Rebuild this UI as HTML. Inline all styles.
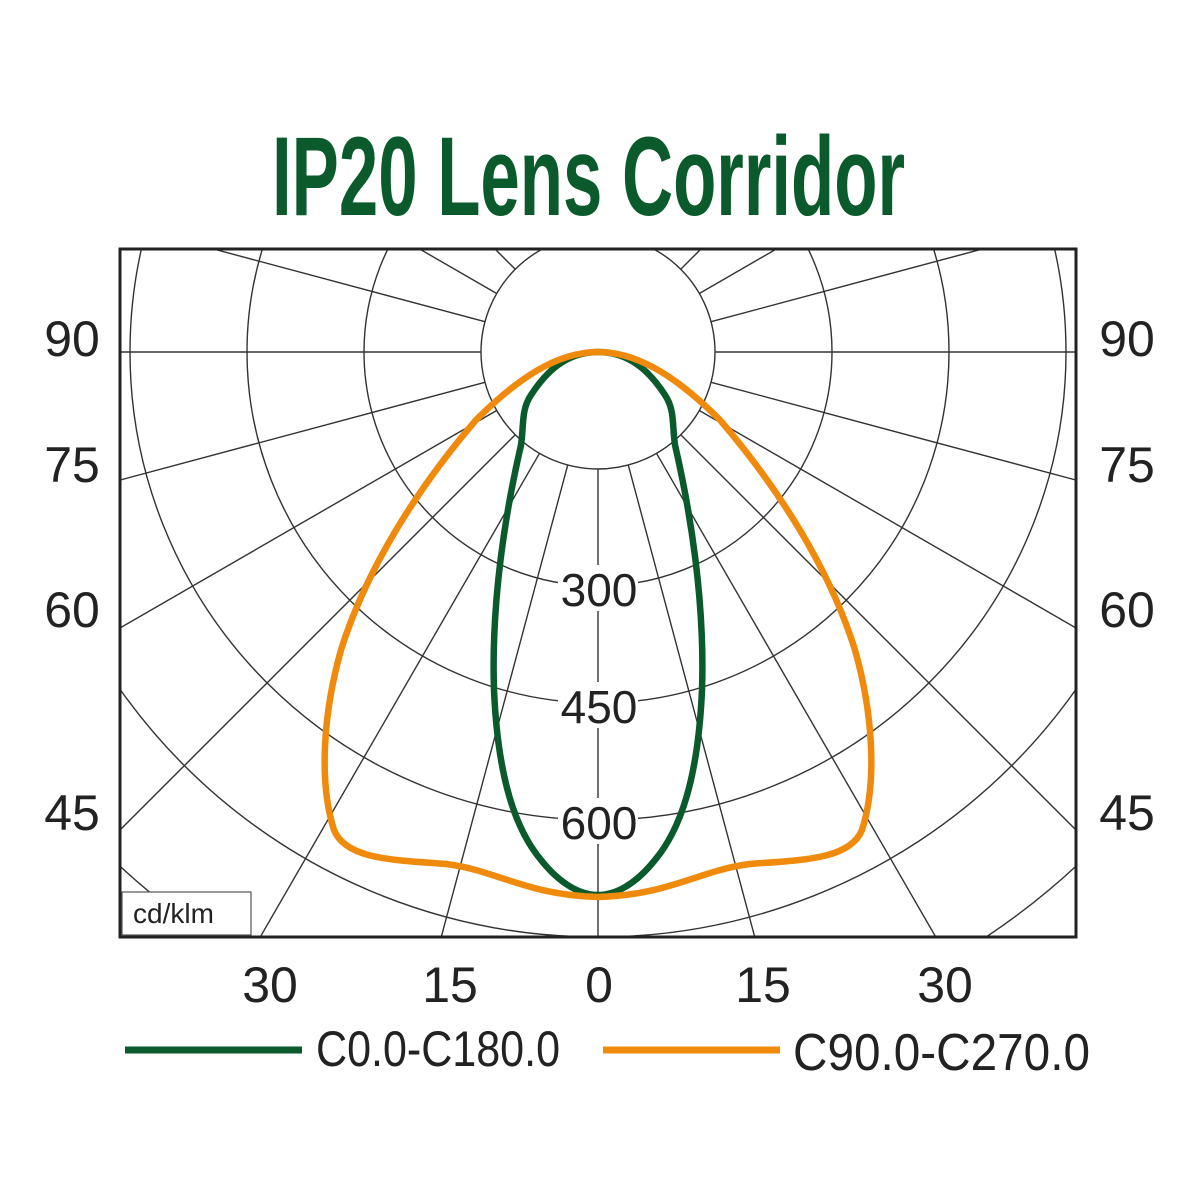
<!DOCTYPE html>
<html><head><meta charset="utf-8"><style>
html,body{margin:0;padding:0;background:#fff;width:1200px;height:1200px;overflow:hidden;}
svg{display:block;overflow:hidden}
text{font-family:"Liberation Sans Narrow","Liberation Sans",sans-serif;fill:#222}
</style></head><body>
<svg width="1200" height="1200" viewBox="0 0 1200 1200" xmlns="http://www.w3.org/2000/svg">
<defs><clipPath id="c"><rect x="121" y="250" width="954" height="686"/></clipPath></defs>
<text x="272" y="215" font-size="112" font-weight="bold" textLength="633" lengthAdjust="spacingAndGlyphs" style="fill:#0b5a2c">IP20 Lens Corridor</text>
<g clip-path="url(#c)" stroke="#333" stroke-width="1.4" fill="none">
<circle cx="598" cy="352" r="117"/>
<circle cx="598" cy="352" r="234"/>
<circle cx="598" cy="352" r="351"/>
<circle cx="598" cy="352" r="468"/>
<circle cx="598" cy="352" r="585"/>
<circle cx="598" cy="352" r="702"/>
<g transform="translate(598,352)">
<line x1="117" y1="0" x2="760" y2="0" transform="rotate(0)"/>
<line x1="117" y1="0" x2="760" y2="0" transform="rotate(15)"/>
<line x1="117" y1="0" x2="760" y2="0" transform="rotate(30)"/>
<line x1="117" y1="0" x2="760" y2="0" transform="rotate(45)"/>
<line x1="117" y1="0" x2="760" y2="0" transform="rotate(60)"/>
<line x1="117" y1="0" x2="760" y2="0" transform="rotate(75)"/>
<line x1="117" y1="0" x2="760" y2="0" transform="rotate(90)"/>
<line x1="117" y1="0" x2="760" y2="0" transform="rotate(105)"/>
<line x1="117" y1="0" x2="760" y2="0" transform="rotate(120)"/>
<line x1="117" y1="0" x2="760" y2="0" transform="rotate(135)"/>
<line x1="117" y1="0" x2="760" y2="0" transform="rotate(150)"/>
<line x1="117" y1="0" x2="760" y2="0" transform="rotate(165)"/>
<line x1="117" y1="0" x2="760" y2="0" transform="rotate(180)"/>
<line x1="117" y1="0" x2="760" y2="0" transform="rotate(195)"/>
<line x1="117" y1="0" x2="760" y2="0" transform="rotate(210)"/>
<line x1="117" y1="0" x2="760" y2="0" transform="rotate(225)"/>
<line x1="117" y1="0" x2="760" y2="0" transform="rotate(240)"/>
<line x1="117" y1="0" x2="760" y2="0" transform="rotate(255)"/>
<line x1="117" y1="0" x2="760" y2="0" transform="rotate(270)"/>
<line x1="117" y1="0" x2="760" y2="0" transform="rotate(285)"/>
<line x1="117" y1="0" x2="760" y2="0" transform="rotate(300)"/>
<line x1="117" y1="0" x2="760" y2="0" transform="rotate(315)"/>
<line x1="117" y1="0" x2="760" y2="0" transform="rotate(330)"/>
<line x1="117" y1="0" x2="760" y2="0" transform="rotate(345)"/>
</g>
</g>
<rect x="120" y="249" width="956" height="688" fill="none" stroke="#222" stroke-width="3"/>
<rect x="122" y="892" width="129" height="43" fill="#fff" stroke="#555" stroke-width="1.2"/>
<text x="133" y="923" font-size="28" style="font-family:'Liberation Sans',sans-serif">cd/klm</text>
<g font-size="46" text-anchor="middle">
<rect x="558" y="565" width="80" height="46" fill="#fff"/>
<rect x="558" y="682" width="80" height="46" fill="#fff"/>
<rect x="558" y="798" width="80" height="46" fill="#fff"/>
<text x="599" y="606">300</text>
<text x="599" y="723">450</text>
<text x="599" y="839">600</text>
</g>
<path d="M598,352 C630,352 650,372 665,395 C675,410 672,425 675,445 C690,510 705,600 702,690 C698,780 680,830 655,860 C635,885 615,895 598,895 C581,895 561,885 541,860 C516,830 498,780 494,690 C491,600 506,510 521,445 C524,425 521,410 531,395 C546,372 566,352 598,352 Z" fill="none" stroke="#0b5a2c" stroke-width="6.5"/>
<path d="M598,352 C640,352 680,380 720,420 C780,490 830,570 855,650 C872,710 878,780 862,830 C850,860 800,860 750,864 C700,870 670,895 598,897 C526,895 496,870 446,864 C396,860 346,860 334,830 C318,780 324,710 341,650 C366,570 416,490 476,420 C516,380 556,352 598,352 Z" fill="none" stroke="#ef8a0c" stroke-width="6.5"/>
<g font-size="50" text-anchor="middle">
<text x="72" y="356">90</text><text x="72" y="482">75</text><text x="72" y="627">60</text><text x="72" y="830">45</text>
<text x="1127" y="356">90</text><text x="1127" y="482">75</text><text x="1127" y="627">60</text><text x="1127" y="830">45</text>
<text x="270" y="1002">30</text><text x="450" y="1002">15</text><text x="599" y="1002">0</text><text x="763" y="1002">15</text><text x="945" y="1002">30</text>
</g>
<line x1="125" y1="1050" x2="302" y2="1050" stroke="#0b5a2c" stroke-width="7"/>
<line x1="603" y1="1050" x2="780" y2="1050" stroke="#ef8a0c" stroke-width="7"/>
<text x="316" y="1066" font-size="50" textLength="244" lengthAdjust="spacingAndGlyphs">C0.0-C180.0</text>
<text x="793" y="1070" font-size="52" textLength="297" lengthAdjust="spacingAndGlyphs">C90.0-C270.0</text>
</svg>
</body></html>
